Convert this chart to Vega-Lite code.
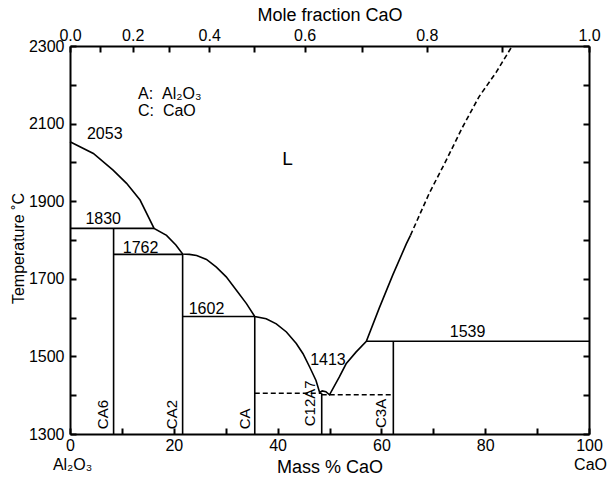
{
  "$schema": "https://vega.github.io/schema/vega-lite/v6.json",
  "width": 519,
  "height": 388,
  "autosize": "none",
  "padding": {"left": 70, "top": 46, "right": 20, "bottom": 49},
  "config": {
    "font": "Liberation Sans",
    "view": {"stroke": null},
    "axis": {
      "domainColor": "black", "domainWidth": 2,
      "labelColor": "black", "labelFontSize": 16, "labelFont": "Liberation Sans",
      "titleColor": "black", "titleFontSize": 18, "titleFontWeight": "normal", "titleFont": "Liberation Sans",
      "grid": false, "labelFlush": false, "labelOverlap": false
    }
  },
  "datasets": {
    "solid": [
      {"seg": "liq", "x": 0, "T": 2053}, {"seg": "liq", "x": 4.5, "T": 2023}, {"seg": "liq", "x": 8.3, "T": 1980},
      {"seg": "liq", "x": 10.9, "T": 1946}, {"seg": "liq", "x": 13.5, "T": 1903}, {"seg": "liq", "x": 16.2, "T": 1830},
      {"seg": "liq", "x": 18.6, "T": 1812}, {"seg": "liq", "x": 20.4, "T": 1787}, {"seg": "liq", "x": 21.7, "T": 1764},
      {"seg": "liq", "x": 23.0, "T": 1763}, {"seg": "liq", "x": 24.4, "T": 1760}, {"seg": "liq", "x": 26.3, "T": 1750},
      {"seg": "liq", "x": 28.2, "T": 1730}, {"seg": "liq", "x": 30.1, "T": 1705}, {"seg": "liq", "x": 32.1, "T": 1670},
      {"seg": "liq", "x": 34.0, "T": 1636}, {"seg": "liq", "x": 35.6, "T": 1603}, {"seg": "liq", "x": 37.8, "T": 1597},
      {"seg": "liq", "x": 39.75, "T": 1584}, {"seg": "liq", "x": 41.7, "T": 1563}, {"seg": "liq", "x": 43.6, "T": 1533},
      {"seg": "liq", "x": 44.9, "T": 1507}, {"seg": "liq", "x": 46.2, "T": 1472}, {"seg": "liq", "x": 47.4, "T": 1438},
      {"seg": "liq", "x": 48.1, "T": 1407}, {"seg": "liq", "x": 48.6, "T": 1411}, {"seg": "liq", "x": 49.3, "T": 1409},
      {"seg": "liq", "x": 50.0, "T": 1401}, {"seg": "liq", "x": 51.9, "T": 1447}, {"seg": "liq", "x": 53.2, "T": 1481},
      {"seg": "liq", "x": 55.1, "T": 1511}, {"seg": "liq", "x": 57.1, "T": 1539}, {"seg": "liq", "x": 59.6, "T": 1625},
      {"seg": "liq", "x": 62.2, "T": 1710}, {"seg": "liq", "x": 64.8, "T": 1790}, {"seg": "liq", "x": 65.6, "T": 1812},
      {"seg": "h1830", "x": 0, "T": 1830}, {"seg": "h1830", "x": 16.2, "T": 1830},
      {"seg": "vCA6", "x": 8.4, "T": 1300}, {"seg": "vCA6", "x": 8.4, "T": 1830},
      {"seg": "h1762", "x": 8.4, "T": 1763}, {"seg": "h1762", "x": 21.7, "T": 1763},
      {"seg": "vCA2", "x": 21.7, "T": 1300}, {"seg": "vCA2", "x": 21.7, "T": 1763},
      {"seg": "h1602", "x": 21.7, "T": 1603}, {"seg": "h1602", "x": 35.6, "T": 1603},
      {"seg": "vCA", "x": 35.6, "T": 1300}, {"seg": "vCA", "x": 35.6, "T": 1603},
      {"seg": "vC12A7", "x": 48.5, "T": 1300}, {"seg": "vC12A7", "x": 48.5, "T": 1405},
      {"seg": "vC3A", "x": 62.3, "T": 1300}, {"seg": "vC3A", "x": 62.3, "T": 1539},
      {"seg": "h1539", "x": 57.1, "T": 1539}, {"seg": "h1539", "x": 100, "T": 1539}
    ],
    "dashed": [
      {"seg": "upper", "x": 65.6, "T": 1812}, {"seg": "upper", "x": 69.2, "T": 1920}, {"seg": "upper", "x": 72.4, "T": 2003},
      {"seg": "upper", "x": 75.6, "T": 2090}, {"seg": "upper", "x": 78.8, "T": 2169}, {"seg": "upper", "x": 82.1, "T": 2232},
      {"seg": "upper", "x": 85.2, "T": 2300},
      {"seg": "e1", "x": 35.6, "T": 1405}, {"seg": "e1", "x": 48.5, "T": 1405},
      {"seg": "e2", "x": 48.5, "T": 1401}, {"seg": "e2", "x": 62.3, "T": 1401}
    ],
    "nums": [
      {"x": 6.7, "T": 2072, "label": "2053"},
      {"x": 6.4, "T": 1853, "label": "1830"},
      {"x": 13.6, "T": 1780, "label": "1762"},
      {"x": 26.3, "T": 1621, "label": "1602"},
      {"x": 49.7, "T": 1492, "label": "1413"},
      {"x": 76.6, "T": 1563, "label": "1539"}
    ],
    "phases": [
      {"x": 6.4, "T": 1350, "label": "CA6"},
      {"x": 19.6, "T": 1350, "label": "CA2"},
      {"x": 33.8, "T": 1339, "label": "CA"},
      {"x": 46.2, "T": 1379, "label": "C12A7"},
      {"x": 60.0, "T": 1353, "label": "C3A"}
    ],
    "legend": [
      {"x": 13.1, "T": 2176, "label": "A:\u00a0\u00a0Al₂O₃"},
      {"x": 13.1, "T": 2132, "label": "C:\u00a0\u00a0CaO"}
    ],
    "region": [
      {"x": 41.9, "T": 2008, "label": "L"}
    ],
    "ends": [
      {"x": 0.5, "T": 1221, "label": "Al₂O₃"},
      {"x": 100.3, "T": 1221, "label": "CaO"}
    ]
  },
  "resolve": {"axis": {"x": "independent", "y": "independent"}},
  "layer": [
    {
      "data": {"name": "solid"},
      "mark": {"type": "line", "color": "black", "strokeWidth": 1.6, "clip": false},
      "encoding": {
        "x": {"field": "x", "type": "quantitative", "scale": {"domain": [0, 100], "nice": false, "zero": false},
          "axis": {"orient": "bottom", "values": [0, 20, 40, 60, 80, 100], "format": "d", "ticks": false,
            "labelPadding": 3, "title": "Mass % CaO", "titlePadding": 5}},
        "y": {"field": "T", "type": "quantitative", "scale": {"domain": [1300, 2300], "nice": false, "zero": false},
          "axis": {"orient": "left", "values": [1300, 1500, 1700, 1900, 2100, 2300], "format": "d", "ticks": false,
            "labelPadding": 6,
            "title": "Temperature ˚C", "titleFontSize": 16, "titleX": -44, "titleY": 202}},
        "detail": {"field": "seg"}
      }
    },
    {
      "data": {"name": "dashed"},
      "mark": {"type": "line", "color": "black", "strokeWidth": 1.6, "strokeDash": [5, 3], "clip": false},
      "encoding": {
        "x": {"field": "x", "type": "quantitative", "scale": {"domain": [0, 100], "nice": false, "zero": false},
          "axis": {"orient": "top", "values": [0, 12.088, 26.83, 45.206, 68.75, 100], "ticks": false,
            "labelExpr": "datum.value < 1 ? '0.0' : abs(datum.value - 12.088) < 0.1 ? '0.2' : abs(datum.value - 26.83) < 0.1 ? '0.4' : abs(datum.value - 45.206) < 0.1 ? '0.6' : abs(datum.value - 68.75) < 0.1 ? '0.8' : '1.0'",
            "labelPadding": 3, "title": "Mole fraction CaO", "titlePadding": 3}},
        "y": {"field": "T", "type": "quantitative", "scale": {"domain": [1300, 2300], "nice": false, "zero": false},
          "axis": {"orient": "right", "values": [1300, 2300], "ticks": false, "labels": false, "title": null}},
        "detail": {"field": "seg"}
      }
    },
    {
      "data": {"name": "nums"},
      "mark": {"type": "text", "fontSize": 16, "color": "black", "align": "center", "baseline": "middle"},
      "encoding": {
        "x": {"field": "x", "type": "quantitative",
          "axis": {"orient": "bottom", "values": [0, 10, 20, 30, 40, 50, 60, 70, 80, 90, 100], "offset": -6,
            "ticks": true, "tickSize": 6, "tickWidth": 2, "tickColor": "black", "tickOpacity": 1,
            "domain": false, "labels": false, "title": null}},
        "y": {"field": "T", "type": "quantitative",
          "axis": {"orient": "right", "values": [1300, 1400, 1500, 1600, 1700, 1800, 1900, 2000, 2100, 2200, 2300], "offset": -6,
            "ticks": true, "tickSize": 6, "tickWidth": 2, "tickColor": "black", "tickOpacity": 1,
            "domain": false, "labels": false, "title": null}},
        "text": {"field": "label"}
      }
    },
    {
      "data": {"name": "phases"},
      "mark": {"type": "text", "fontSize": 15, "color": "black", "align": "center", "baseline": "middle", "angle": 270},
      "encoding": {
        "x": {"field": "x", "type": "quantitative",
          "axis": {"orient": "bottom", "values": [0, 5.759, 12.088, 19.076, 26.83, 35.485, 45.206, 56.205, 68.75, 83.194, 100], "offset": -388,
            "ticks": true, "tickSize": 6, "tickWidth": 2, "tickColor": "black", "tickOpacity": 1,
            "domain": false, "labels": false, "title": null}},
        "y": {"field": "T", "type": "quantitative",
          "axis": {"orient": "right", "values": [1300, 1400, 1500, 1600, 1700, 1800, 1900, 2000, 2100, 2200, 2300], "offset": -519,
            "ticks": true, "tickSize": 6, "tickWidth": 2, "tickColor": "black", "tickOpacity": 1,
            "domain": false, "labels": false, "title": null}},
        "text": {"field": "label"}
      }
    },
    {
      "data": {"name": "legend"},
      "mark": {"type": "text", "fontSize": 16, "color": "black", "align": "left", "baseline": "middle"},
      "encoding": {
        "x": {"field": "x", "type": "quantitative", "axis": null},
        "y": {"field": "T", "type": "quantitative", "axis": null},
        "text": {"field": "label"}
      }
    },
    {
      "data": {"name": "region"},
      "mark": {"type": "text", "fontSize": 19, "color": "black", "align": "center", "baseline": "middle"},
      "encoding": {
        "x": {"field": "x", "type": "quantitative", "axis": null},
        "y": {"field": "T", "type": "quantitative", "axis": null},
        "text": {"field": "label"}
      }
    },
    {
      "data": {"name": "ends"},
      "mark": {"type": "text", "fontSize": 16, "color": "black", "align": "center", "baseline": "middle"},
      "encoding": {
        "x": {"field": "x", "type": "quantitative", "axis": null},
        "y": {"field": "T", "type": "quantitative", "axis": null},
        "text": {"field": "label"}
      }
    }
  ]
}
